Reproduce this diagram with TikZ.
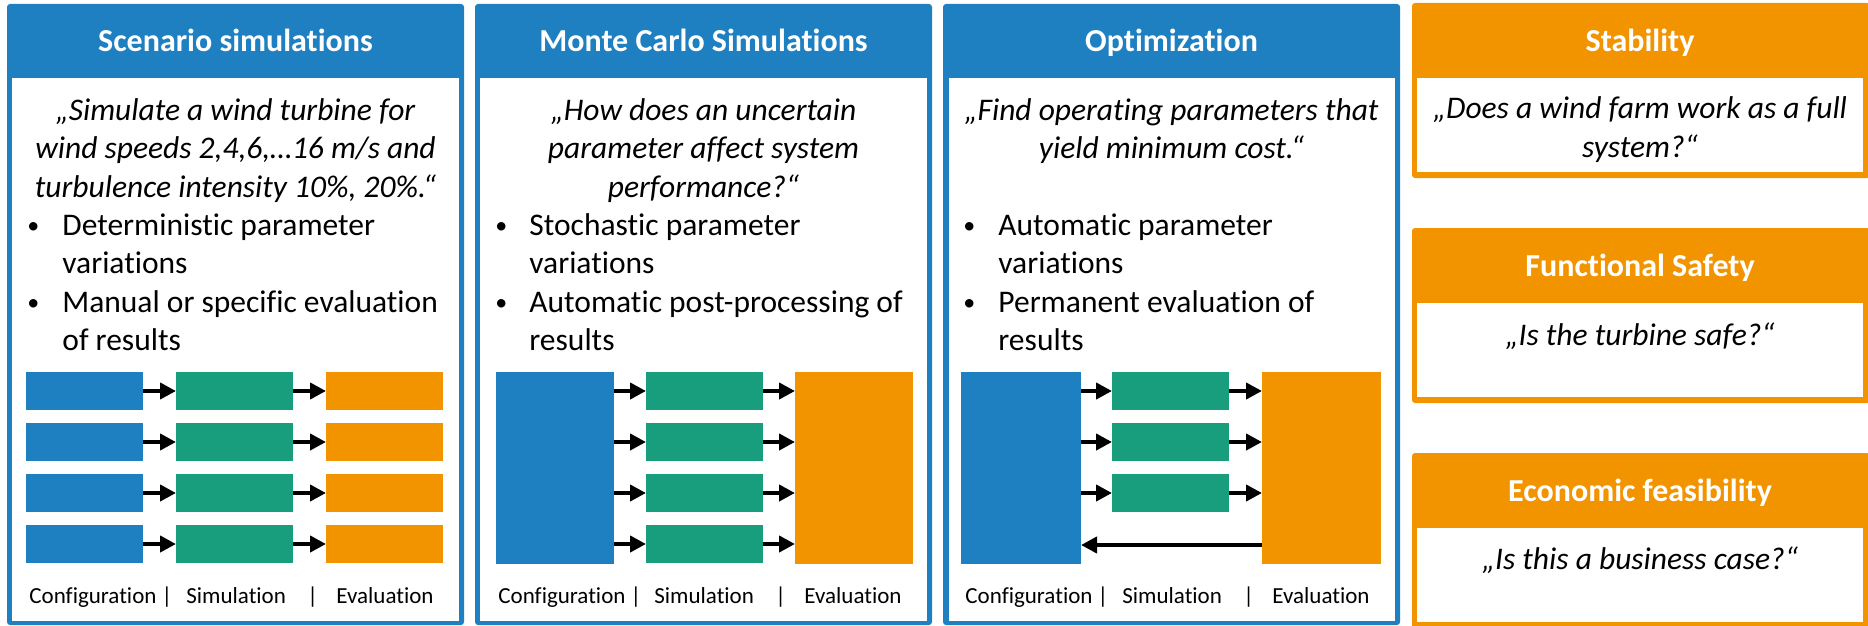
\documentclass[tikz,border=0pt]{standalone}
\usepackage{fontspec}
\setmainfont{Carlito}[Ligatures={TeX,NoCommon}]
\usetikzlibrary{arrows.meta}
\definecolor{cblue}{HTML}{1F80C1}
\definecolor{cgreen}{HTML}{199E7D}
\definecolor{corange}{HTML}{F29400}

\begin{document}
\begin{tikzpicture}[x=0.5pt,y=-0.5pt,
  title/.style={anchor=base, text=white, inner sep=0, font=\fontsize{16}{19}\selectfont\bfseries},
  quote/.style={anchor=base, inner sep=0, font=\fontsize{15.75}{19}\selectfont\itshape},
  item/.style={anchor=base west, inner sep=0, font=\fontsize{15.75}{19}\selectfont},
  dot/.style={anchor=base west, inner sep=0, font=\fontsize{12}{14}\selectfont},
  stage/.style={anchor=base west, inner sep=0, font=\fontsize{11.5}{14}\selectfont},
  cell/.style={inner sep=0, outer sep=0, minimum width=58.5pt, minimum height=19pt},
  tall/.style={cell, minimum height=96pt},
  arr/.style={line width=2pt, -{Triangle[length=8pt,width=8pt]}},
  frame/.style={rounded corners=1.5pt},
]
\useasboundingbox (0,0) rectangle (1868,626);

% ---- three method panels ----
\fill[cblue, frame] (7,4) rectangle (464,625);
\fill[white] (12,78) rectangle (459,621);
\fill[cblue, frame] (475,4) rectangle (932,625);
\fill[white] (480,78) rectangle (927,621);
\fill[cblue, frame] (943,4) rectangle (1400,625);
\fill[white] (949,78) rectangle (1395,621);

% ---- three question boxes ----
\fill[corange, frame] (1412,3) rectangle (1870,178);
\fill[white] (1417,78) rectangle (1863,172);
\fill[corange, frame] (1412,228) rectangle (1870,403);
\fill[white] (1417,303) rectangle (1863,397);
\fill[corange, frame] (1412,453) rectangle (1870,630);
\fill[white] (1417,528) rectangle (1863,622);

% ---- panel titles ----
\node[title] (t1) at (235.5,52) {Scenario simulations};
\node[title] (t2) at (703.5,52) {Monte Carlo Simulations};
\node[title] (t3) at (1171.5,52) {Optimization};
\node[title] (t4) at (1640,52) {Stability};
\node[title] (t5) at (1640,276) {Functional Safety};
\node[title] (t6) at (1640,501) {Economic feasibility};

% ---- scenario simulations text ----
\node[quote] (q1a) at (235.5,120) {„Simulate a wind turbine for};
\node[quote] (q1b) at (235.5,158) {wind speeds 2,4,6,…16 m/s and};
\node[quote] (q1c) at (235.5,197) {turbulence intensity 10\%, 20\%.“};
\node[dot] (d1a) at (27,233) {•};
\node[item] (i1a) at (62,235) {Deterministic parameter};
\node[item] (i1b) at (62,273) {variations};
\node[dot] (d1b) at (27,310) {•};
\node[item] (i1c) at (62,312) {Manual or specific evaluation};
\node[item] (i1d) at (62,350) {of results};

% ---- monte carlo text ----
\node[quote] (q2a) at (703.5,120) {„How does an uncertain};
\node[quote] (q2b) at (703.5,158) {parameter affect system};
\node[quote] (q2c) at (703.5,197) {performance?“};
\node[dot] (d2a) at (495,233) {•};
\node[item] (i2a) at (529,235) {Stochastic parameter};
\node[item] (i2b) at (529,273) {variations};
\node[dot] (d2b) at (495,310) {•};
\node[item] (i2c) at (529,312) {Automatic post-processing of};
\node[item] (i2d) at (529,350) {results};

% ---- optimization text ----
\node[quote] (q3a) at (1171.5,120) {„Find operating parameters that};
\node[quote] (q3b) at (1171.5,158) {yield minimum cost.“};
\node[dot] (d3a) at (963,233) {•};
\node[item] (i3a) at (998,235) {Automatic parameter};
\node[item] (i3b) at (998,273) {variations};
\node[dot] (d3b) at (963,310) {•};
\node[item] (i3c) at (998,312) {Permanent evaluation of};
\node[item] (i3d) at (998,350) {results};

% ---- question texts ----
\node[quote] (q4a) at (1640,119) {„Does a wind farm work as a full};
\node[quote] (q4b) at (1640,157) {system?“};
\node[quote] (q5) at (1640,345) {„Is the turbine safe?“};
\node[quote] (q6) at (1640,569) {„Is this a business case?“};

% ---- scenario simulations: four independent chains ----
\foreach \r/\yy in {1/391,2/442,3/493,4/544}{
  \node[cell, fill=cblue] (a\r) at (84.5,\yy) {};
  \node[cell, fill=cgreen] (b\r) at (234.5,\yy) {};
  \node[cell, fill=corange] (c\r) at (384.5,\yy) {};
  \draw[arr] (a\r.east) -- (b\r.west);
  \draw[arr] (b\r.east) -- (c\r.west);
}

% ---- monte carlo: one configuration, many runs, one evaluation ----
\node[tall, fill=cblue, minimum width=59pt] (mcfg) at (555,468) {};
\node[tall, fill=corange, minimum width=59pt] (meval) at (854,468) {};
\foreach \r/\yy in {1/391,2/442,3/493,4/544}{
  \node[cell, fill=cgreen] (m\r) at (704.5,\yy) {};
  \draw[arr] (mcfg.east |- m\r.west) -- (m\r.west);
  \draw[arr] (m\r.east) -- (meval.west |- m\r.east);
}

% ---- optimization: runs with feedback loop ----
\node[tall, fill=cblue, minimum width=60pt] (ocfg) at (1021,468) {};
\node[tall, fill=corange, minimum width=59.5pt] (oeval) at (1321.5,468) {};
\foreach \r/\yy in {1/391,2/442,3/493}{
  \node[cell, fill=cgreen] (o\r) at (1170.5,\yy) {};
  \draw[arr] (ocfg.east |- o\r.west) -- (o\r.west);
  \draw[arr] (o\r.east) -- (oeval.west |- o\r.east);
}
\coordinate (fb) at (1262,545);
\draw[arr] (fb) -- (ocfg.east |- fb);

% ---- stage captions ----
\foreach \p/\xa/\xb/\xc/\xd in {1/29/186/307/336, 2/498/654/775/804, 3/965/1122/1243/1272}{
  \node[stage] (sc\p) at (\xa,603) {Configuration |};
  \node[stage] (ss\p) at (\xb,603) {Simulation};
  \node[stage] (sb\p) at (\xc,603) {|};
  \node[stage] (se\p) at (\xd,603) {Evaluation};
}
\end{tikzpicture}
\end{document}
